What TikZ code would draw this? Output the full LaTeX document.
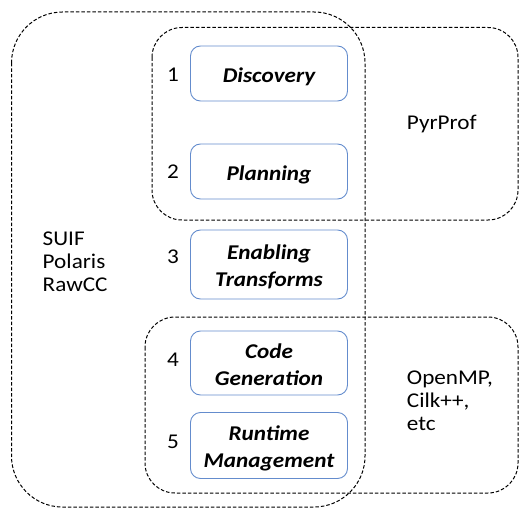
\documentclass[tikz,border=0pt]{standalone}
\usepackage{fontspec}
\setmainfont[FakeStretch=1.104]{Carlito}
\begin{document}
\begin{tikzpicture}[x=1pt,y=-1pt,
  grp/.style={draw=black,line width=1pt,dash pattern=on 3.5pt off 2pt},
  stage/.style={draw={rgb,255:red,100;green,140;blue,205},line width=0.9pt,rounded corners=10pt,
     minimum width=157pt,inner sep=0pt,
     font=\fontsize{21}{26.7}\selectfont\bfseries\itshape},
  one/.style={text height=17.6pt,text depth=0pt},
  two/.style={text height=0pt,text depth=9.3pt},
  num/.style={font=\fontsize{21}{23.3}\selectfont,inner sep=0pt,anchor=base},
  lbl/.style={font=\fontsize{21}{23.3}\selectfont,inner sep=0pt,anchor=base west}]
\useasboundingbox (0,0) rectangle (519,508);
% group boxes
\draw[grp,rounded corners=51pt] (11.5,12) rectangle (365,507);
\draw[grp,rounded corners=30pt] (152,27.5) rectangle (518,220);
\draw[grp,rounded corners=30pt] (145,317) rectangle (518,493);
% stages
\node[stage,one,minimum height=55pt] (s1) at (269,73.5) {Discovery};
\node[stage,one,minimum height=55pt] (s2) at (269,171.5) {Planning};
\node[stage,two,minimum height=69pt] (s3) at (269,264.5) {\begin{tabular}[t]{@{}c@{}}Enabling\\Transforms\end{tabular}};
\node[stage,two,minimum height=64pt] (s4) at (269,363) {\begin{tabular}[t]{@{}c@{}}Code\\Generation\end{tabular}};
\node[stage,two,minimum height=66pt] (s5) at (269,445.5) {\begin{tabular}[t]{@{}c@{}}Runtime\\Management\end{tabular}};
% numbers
\node[num] (n1) at (173,82) {1};
\node[num] (n2) at (173,178.5) {2};
\node[num] (n3) at (173,263.5) {3};
\node[num] (n4) at (173,366.5) {4};
\node[num] (n5) at (173,448.3) {5};
% labels
\node[lbl] (suif) at (42.5,245.3) {\begin{tabular}[t]{@{}l@{}}SUIF\\Polaris\\RawCC\end{tabular}};
\node[lbl] (pyr) at (406.7,129.3) {PyrProf};
\node[lbl] (omp) at (406.7,384) {\begin{tabular}[t]{@{}l@{}}OpenMP,\\Cilk++,\\etc\end{tabular}};
\end{tikzpicture}
\end{document}
